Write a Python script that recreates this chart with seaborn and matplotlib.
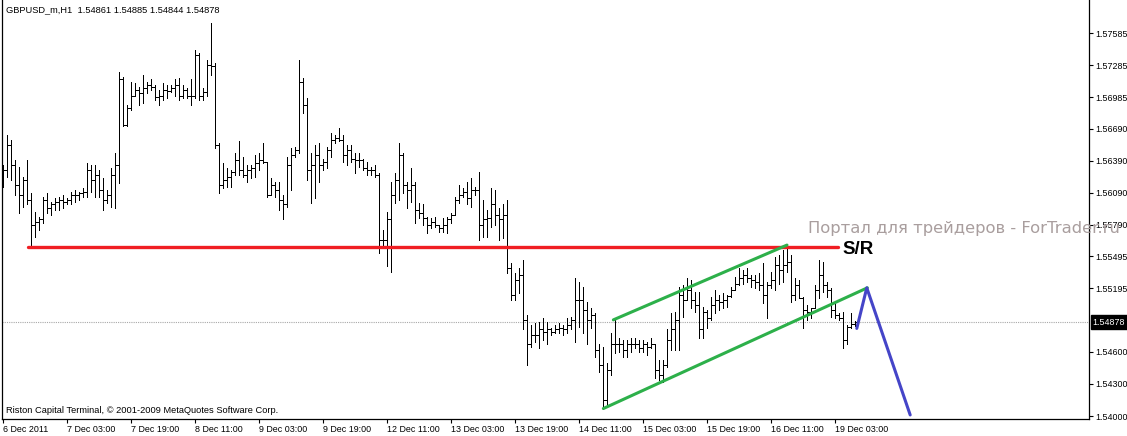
import numpy as np
import matplotlib
matplotlib.use("Agg")
import matplotlib.pyplot as plt
import matplotlib.transforms as mtrans
import seaborn as sns

# ---------------- data ----------------
symbol_info = "GBPUSD_m,H1  1.54861 1.54885 1.54844 1.54878"
copyright_text = "Riston Capital Terminal, \u00a9 2001-2009 MetaQuotes Software Corp."
watermark_text = "Портал для трейдеров - ForTrader.ru"
sr_label = "S/R"

opens = [
    1.5621, 1.5630, 1.5654, 1.5635, 1.5616, 1.5607, 1.5621, 1.5602, 1.5579, 1.5582,
    1.5584, 1.5602, 1.5595, 1.5598, 1.5600, 1.5602, 1.5600, 1.5602, 1.5607, 1.5607,
    1.5609, 1.5610, 1.5630, 1.5621, 1.5626, 1.5612, 1.5602, 1.5607, 1.5626, 1.5635,
    1.5715, 1.5672, 1.5688, 1.5700, 1.5705, 1.5702, 1.5707, 1.5710, 1.5708, 1.5699,
    1.5700, 1.5705, 1.5704, 1.5707, 1.5710, 1.5700, 1.5705, 1.5700, 1.5700, 1.5738,
    1.5700, 1.5703, 1.5729, 1.5728, 1.5654, 1.5616, 1.5621, 1.5624, 1.5628, 1.5640,
    1.5630, 1.5626, 1.5630, 1.5632, 1.5637, 1.5640, 1.5638, 1.5607, 1.5616, 1.5612,
    1.5602, 1.5598, 1.5635, 1.5644, 1.5649, 1.5713, 1.5691, 1.5630, 1.5635, 1.5644,
    1.5635, 1.5638, 1.5649, 1.5658, 1.5660, 1.5658, 1.5644, 1.5649, 1.5641, 1.5640,
    1.5640, 1.5632, 1.5630, 1.5630, 1.5626, 1.5565, 1.5565, 1.5584, 1.5607, 1.5621,
    1.5644, 1.5616, 1.5612, 1.5616, 1.5593, 1.5590, 1.5585, 1.5579, 1.5582, 1.5579,
    1.5576, 1.5579, 1.5584, 1.5588, 1.5602, 1.5607, 1.5610, 1.5604, 1.5612, 1.5612,
    1.5579, 1.5584, 1.5585, 1.5598, 1.5588, 1.5584, 1.5588, 1.5539, 1.5513, 1.5527,
    1.5532, 1.5490, 1.5467, 1.5476, 1.5476, 1.5481, 1.5479, 1.5481, 1.5479, 1.5481,
    1.5482, 1.5481, 1.5485, 1.5490, 1.5509, 1.5509, 1.5499, 1.5490, 1.5495, 1.5462,
    1.5448, 1.5415, 1.5443, 1.5467, 1.5467, 1.5467, 1.5462, 1.5467, 1.5467, 1.5467,
    1.5464, 1.5467, 1.5465, 1.5467, 1.5443, 1.5438, 1.5448, 1.5471, 1.5481, 1.5490,
    1.5513, 1.5509, 1.5518, 1.5509, 1.5504, 1.5481, 1.5497, 1.5492, 1.5504, 1.5509,
    1.5507, 1.5509, 1.5512, 1.5518, 1.5524, 1.5529, 1.5532, 1.5529, 1.5527, 1.5525,
    1.5523, 1.5513, 1.5523, 1.5527, 1.5541, 1.5537, 1.5541, 1.5544, 1.5513, 1.5523,
    1.5510, 1.5499, 1.5497, 1.5501, 1.5518, 1.5532, 1.5523, 1.5518, 1.5499, 1.5495,
    1.5492, 1.5471, 1.5483, 1.54861,
]
highs = [
    1.5635, 1.5663, 1.5658, 1.5640, 1.5633, 1.5624, 1.5640, 1.5609, 1.5591, 1.5586,
    1.5605, 1.5609, 1.5600, 1.5604, 1.5605, 1.5607, 1.5604, 1.5610, 1.5612, 1.5610,
    1.5613, 1.5637, 1.5635, 1.5635, 1.5630, 1.5623, 1.5612, 1.5632, 1.5646, 1.5722,
    1.5717, 1.5691, 1.5713, 1.5712, 1.5708, 1.5719, 1.5713, 1.5715, 1.5710, 1.5705,
    1.5712, 1.5710, 1.5710, 1.5715, 1.5716, 1.5710, 1.5707, 1.5715, 1.5743, 1.5740,
    1.5707, 1.5733, 1.5768, 1.5730, 1.5656, 1.5637, 1.5632, 1.5630, 1.5646, 1.5657,
    1.5642, 1.5635, 1.5635, 1.5644, 1.5646, 1.5656, 1.5638, 1.5623, 1.5619, 1.5619,
    1.5607, 1.5642, 1.5651, 1.5652, 1.5733, 1.5716, 1.5698, 1.5646, 1.5654, 1.5656,
    1.5641, 1.5652, 1.5665, 1.5663, 1.5670, 1.5663, 1.5654, 1.5654, 1.5646, 1.5646,
    1.5641, 1.5638, 1.5633, 1.5635, 1.5627, 1.5574, 1.5591, 1.5619, 1.5627, 1.5656,
    1.5646, 1.5619, 1.5632, 1.5619, 1.5599, 1.5598, 1.5586, 1.5585, 1.5586, 1.5579,
    1.5585, 1.5586, 1.5590, 1.5605, 1.5616, 1.5613, 1.5619, 1.5623, 1.5614, 1.5628,
    1.5602, 1.5593, 1.5613, 1.5612, 1.5595, 1.5598, 1.5602, 1.5543, 1.5534, 1.5539,
    1.5546, 1.5495, 1.5485, 1.5487, 1.5488, 1.5492, 1.5488, 1.5482, 1.5485, 1.5487,
    1.5485, 1.5492, 1.5493, 1.5529, 1.5525, 1.5521, 1.5507, 1.5501, 1.5496, 1.5467,
    1.5465, 1.5450, 1.5478, 1.5490, 1.5473, 1.5471, 1.5471, 1.5473, 1.5473, 1.5471,
    1.5471, 1.5469, 1.5473, 1.5467, 1.5452, 1.5452, 1.5481, 1.5496, 1.5497, 1.5521,
    1.5523, 1.5529, 1.5527, 1.5516, 1.5516, 1.5502, 1.5499, 1.5511, 1.5518, 1.5513,
    1.5515, 1.5513, 1.5521, 1.5530, 1.5539, 1.5537, 1.5539, 1.5532, 1.5532, 1.5534,
    1.5543, 1.5525, 1.5535, 1.5549, 1.5551, 1.5555, 1.5558, 1.5551, 1.5529, 1.5527,
    1.5511, 1.5504, 1.5501, 1.5523, 1.5546, 1.5544, 1.5525, 1.5520, 1.5506, 1.5496,
    1.5497, 1.5485, 1.5496, 1.54885,
]
lows = [
    1.5614, 1.5624, 1.5621, 1.5607, 1.5590, 1.5596, 1.5598, 1.5558, 1.5568, 1.5574,
    1.5581, 1.5590, 1.5588, 1.5593, 1.5593, 1.5595, 1.5598, 1.5598, 1.5600, 1.5602,
    1.5605, 1.5605, 1.5610, 1.5605, 1.5605, 1.5593, 1.5599, 1.5596, 1.5595, 1.5618,
    1.5671, 1.5671, 1.5686, 1.5700, 1.5691, 1.5693, 1.5702, 1.5705, 1.5696, 1.5691,
    1.5696, 1.5698, 1.5703, 1.5700, 1.5696, 1.5698, 1.5698, 1.5691, 1.5698, 1.5696,
    1.5696, 1.5700, 1.5719, 1.5651, 1.5609, 1.5613, 1.5614, 1.5614, 1.5626, 1.5626,
    1.5624, 1.5619, 1.5623, 1.5624, 1.5630, 1.5637, 1.5605, 1.5607, 1.5605, 1.5593,
    1.5584, 1.5596, 1.5612, 1.5642, 1.5646, 1.5684, 1.5621, 1.5599, 1.5604, 1.5619,
    1.5630, 1.5632, 1.5642, 1.5656, 1.5657, 1.5638, 1.5635, 1.5638, 1.5627, 1.5633,
    1.5630, 1.5626, 1.5626, 1.5624, 1.5553, 1.5557, 1.5540, 1.5535, 1.5599, 1.5602,
    1.5609, 1.5595, 1.5600, 1.5581, 1.5585, 1.5579, 1.5571, 1.5576, 1.5577, 1.5572,
    1.5572, 1.5571, 1.5581, 1.5588, 1.5599, 1.5605, 1.5598, 1.5596, 1.5607, 1.5565,
    1.5568, 1.5568, 1.5577, 1.5579, 1.5565, 1.5567, 1.5534, 1.5509, 1.5509, 1.5515,
    1.5481, 1.5448, 1.5465, 1.5469, 1.5464, 1.5471, 1.5467, 1.5476, 1.5478, 1.5478,
    1.5476, 1.5478, 1.5481, 1.5469, 1.5483, 1.5478, 1.5467, 1.5482, 1.5455, 1.5441,
    1.5407, 1.5410, 1.5438, 1.5459, 1.5460, 1.5455, 1.5455, 1.5460, 1.5464, 1.5460,
    1.5460, 1.5457, 1.5464, 1.5436, 1.5434, 1.5432, 1.5446, 1.5462, 1.5462, 1.5462,
    1.5493, 1.5509, 1.5501, 1.5497, 1.5473, 1.5473, 1.5482, 1.5490, 1.5496, 1.5499,
    1.5501, 1.5502, 1.5511, 1.5518, 1.5523, 1.5524, 1.5525, 1.5521, 1.5520, 1.5518,
    1.5506, 1.5492, 1.5520, 1.5518, 1.5524, 1.5525, 1.5535, 1.5507, 1.5509, 1.5510,
    1.5482, 1.5490, 1.5492, 1.5501, 1.5510, 1.5516, 1.5511, 1.5493, 1.5492, 1.5490,
    1.5464, 1.5467, 1.5482, 1.54844,
]
closes = [
    1.5630, 1.5654, 1.5635, 1.5616, 1.5607, 1.5621, 1.5602, 1.5579, 1.5582, 1.5584,
    1.5602, 1.5595, 1.5598, 1.5600, 1.5602, 1.5600, 1.5602, 1.5607, 1.5607, 1.5609,
    1.5610, 1.5630, 1.5621, 1.5626, 1.5612, 1.5602, 1.5607, 1.5626, 1.5635, 1.5715,
    1.5672, 1.5688, 1.5700, 1.5705, 1.5702, 1.5707, 1.5710, 1.5708, 1.5699, 1.5700,
    1.5705, 1.5704, 1.5707, 1.5710, 1.5700, 1.5705, 1.5700, 1.5700, 1.5738, 1.5700,
    1.5703, 1.5729, 1.5728, 1.5654, 1.5616, 1.5621, 1.5624, 1.5628, 1.5640, 1.5630,
    1.5626, 1.5630, 1.5632, 1.5637, 1.5640, 1.5638, 1.5607, 1.5616, 1.5612, 1.5602,
    1.5598, 1.5635, 1.5644, 1.5649, 1.5713, 1.5691, 1.5630, 1.5635, 1.5644, 1.5635,
    1.5638, 1.5649, 1.5658, 1.5660, 1.5658, 1.5644, 1.5649, 1.5641, 1.5640, 1.5640,
    1.5632, 1.5630, 1.5630, 1.5626, 1.5565, 1.5565, 1.5584, 1.5607, 1.5621, 1.5644,
    1.5616, 1.5612, 1.5616, 1.5593, 1.5590, 1.5585, 1.5579, 1.5582, 1.5579, 1.5576,
    1.5579, 1.5584, 1.5588, 1.5602, 1.5607, 1.5610, 1.5604, 1.5612, 1.5612, 1.5579,
    1.5584, 1.5585, 1.5598, 1.5588, 1.5584, 1.5588, 1.5539, 1.5513, 1.5527, 1.5532,
    1.5490, 1.5467, 1.5476, 1.5476, 1.5481, 1.5479, 1.5481, 1.5479, 1.5481, 1.5482,
    1.5481, 1.5485, 1.5490, 1.5509, 1.5509, 1.5499, 1.5490, 1.5495, 1.5462, 1.5448,
    1.5415, 1.5443, 1.5467, 1.5467, 1.5467, 1.5462, 1.5467, 1.5467, 1.5467, 1.5464,
    1.5467, 1.5465, 1.5467, 1.5443, 1.5438, 1.5448, 1.5471, 1.5481, 1.5490, 1.5513,
    1.5509, 1.5518, 1.5509, 1.5504, 1.5481, 1.5497, 1.5492, 1.5504, 1.5509, 1.5507,
    1.5509, 1.5512, 1.5518, 1.5524, 1.5529, 1.5532, 1.5529, 1.5527, 1.5525, 1.5523,
    1.5513, 1.5523, 1.5527, 1.5541, 1.5537, 1.5541, 1.5544, 1.5513, 1.5523, 1.5510,
    1.5499, 1.5497, 1.5501, 1.5518, 1.5532, 1.5523, 1.5518, 1.5499, 1.5495, 1.5492,
    1.5471, 1.5483, 1.5486, 1.54878,
]

time_tick_labels = ["6 Dec 2011", "7 Dec 03:00", "7 Dec 19:00", "8 Dec 11:00",
                    "9 Dec 03:00", "9 Dec 19:00", "12 Dec 11:00", "13 Dec 03:00",
                    "13 Dec 19:00", "14 Dec 11:00", "15 Dec 03:00", "15 Dec 19:00",
                    "16 Dec 11:00", "19 Dec 03:00"]
time_tick_bars = [0, 16, 32, 48, 64, 80, 96, 112, 128, 144, 160, 176, 192, 208]
price_ticks = [1.57585, 1.57285, 1.56985, 1.56690, 1.56390, 1.56090, 1.55790,
               1.55495, 1.55195, 1.54600, 1.54300, 1.54000]
current_price = 1.54878

sr_level = 1.5558
sr_bars = [6.2, 208.7]
channel_upper_bars = [152.5, 195.9]
channel_upper_prices = [1.5490, 1.5560]
channel_lower_bars = [150.0, 216.0]
channel_lower_prices = [1.5407, 1.5520]
forecast_bars = [213.35, 215.85, 226.7]
forecast_prices = [1.5482, 1.5520, 1.5401]

# ---------------- style ----------------
sns.set_style("white")
plt.rcParams["font.family"] = ["Liberation Sans", "DejaVu Sans"]

W, H = 1127, 436
fig = plt.figure(figsize=(W / 100, H / 100), dpi=100)
fig.patch.set_facecolor("white")
ax = fig.add_axes([2 / W, 17 / H, 1087 / W, 419 / H])
ax.set_facecolor("white")

# ---------------- OHLC bars ----------------
x = np.arange(len(highs))
bar_kw = dict(color="black", lw=0.72, antialiased=False, zorder=3)
ax.vlines(x, lows, highs, **bar_kw)
ax.hlines(opens, x - 0.42, x, **bar_kw)
ax.hlines(closes, x, x + 0.42, **bar_kw)

# current price dotted line
ax.axhline(current_price, color="#a8a8a8", lw=0.8, ls=(0, (1, 1)), zorder=1)

# ---------------- drawn objects (seaborn) ----------------
sns.lineplot(x=sr_bars, y=[sr_level, sr_level], ax=ax, color="#f01e23", lw=2.4,
             estimator=None, sort=False, zorder=4)
sns.lineplot(x=channel_upper_bars, y=channel_upper_prices, ax=ax, color="#2db04a",
             lw=2.2, estimator=None, sort=False, zorder=4)
sns.lineplot(x=channel_lower_bars, y=channel_lower_prices, ax=ax, color="#2db04a",
             lw=2.2, estimator=None, sort=False, zorder=4)
sns.lineplot(x=forecast_bars, y=forecast_prices, ax=ax, color="#4545c8",
             lw=2.2, estimator=None, sort=False, zorder=4)

ax.text(209.9, 1.55554, sr_label, fontsize=13.5, fontweight="bold",
        color="black", ha="left", va="center", zorder=5)

# ---------------- axes ----------------
ax.set_xlim(-0.325, 271.4)
ax.set_ylim(1.53972, 1.57894)
ax.set_xlabel("")
ax.set_ylabel("")

ax.set_xticks(time_tick_bars)
ax.set_xticklabels(time_tick_labels, ha="left", fontsize=6.4)
ax.yaxis.tick_right()
ax.set_yticks(price_ticks)
ax.set_yticklabels([f"{p:.5f}" for p in price_ticks], fontsize=6.4)
ax.tick_params(axis="x", direction="out", length=3, width=0.8, pad=1.5,
               colors="black", bottom=True)
ax.tick_params(axis="y", direction="out", length=3, width=0.8, pad=1.5,
               colors="black", right=True, left=False)

for side in ["left", "right", "bottom"]:
    ax.spines[side].set_visible(True)
    ax.spines[side].set_color("black")
    ax.spines[side].set_linewidth(0.9)
ax.spines["top"].set_visible(False)
ax.grid(False)

# current price label on price scale
trans = mtrans.blended_transform_factory(ax.transAxes, ax.transData)
ax.text(1.0035, current_price, f"{current_price:.5f}", transform=trans,
        fontsize=6.4, color="white", ha="left", va="center", clip_on=False,
        bbox=dict(boxstyle="square,pad=0.25", fc="black", ec="black"), zorder=6)

# ---------------- texts ----------------
fig.text(6 / W, 1 - 10 / H, symbol_info, fontsize=6.7, color="black",
         ha="left", va="center")
fig.text(6 / W, 1 - 410 / H, copyright_text, fontsize=6.7, color="black",
         ha="left", va="center")
fig.text(808 / W, 1 - 233 / H, watermark_text, fontsize=11.8, color="#a99e9e",
         ha="left", va="baseline", family=["DejaVu Sans"], zorder=0)

fig.savefig("out.png", dpi=100, facecolor="white")
